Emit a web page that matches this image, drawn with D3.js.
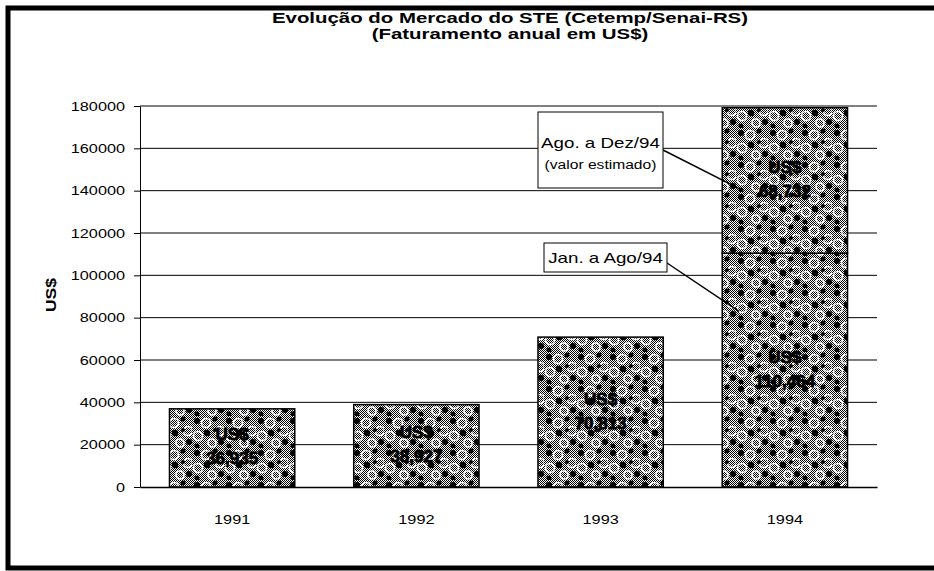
<!DOCTYPE html>
<html>
<head>
<meta charset="utf-8">
<script src="https://cdn.jsdelivr.net/npm/d3@7"></script>
<style>
  body { margin: 0; background: #fff; }
  text { font-family: "Liberation Sans", Arial, sans-serif; fill: #000; }
</style>
</head>
<body>
<script>
// data
const years = ["1991", "1992", "1993", "1994"];
const realValues = [36935, 38927, 70813, 110464];      // Jan. a Ago/94 for 1994
const estimatedValues = [0, 0, 0, 68732];             // Ago. a Dez/94 (valor estimado)
const yTicks = [0, 20000, 40000, 60000, 80000, 100000, 120000, 140000, 160000, 180000];
const titleLines = ["Evolução do Mercado do STE (Cetemp/Senai-RS)", "(Faturamento anual em US$)"];
const yTitle = "US$";
const calloutTexts = [["Ago. a Dez/94", "(valor estimado)"], ["Jan. a Ago/94"]];
const calloutTargets = [141000, 83000];

const w = 934, h = 571;
const plotLeft = 140, plotRight = 877, plotTop = 106, plotBottom = 487;
const stretchK = 1.25;   // the scan is a bit wider than Arial

const svg = d3.select("body").append("svg").attr("width", w).attr("height", h);

// stretch text horizontally to look like the scan
function stretch(sel, k) {
  sel.each(function () {
    const len = this.getComputedTextLength();
    d3.select(this).attr("textLength", len * k).attr("lengthAdjust", "spacingAndGlyphs");
  });
}

// fill pattern: dithered grey with black blobs and white rings
const defs = svg.append("defs");
const checker = defs.append("pattern").attr("id", "checker")
  .attr("width", 2).attr("height", 2).attr("patternUnits", "userSpaceOnUse");
checker.append("rect").attr("width", 2).attr("height", 2).attr("fill", "#fff");
checker.append("rect").attr("width", 1).attr("height", 1).attr("fill", "#000");
checker.append("rect").attr("x", 1).attr("y", 1).attr("width", 1).attr("height", 1).attr("fill", "#000");

const dots = defs.append("pattern").attr("id", "dots")
  .attr("width", 32).attr("height", 32).attr("patternUnits", "userSpaceOnUse");
dots.append("rect").attr("width", 32).attr("height", 32).attr("fill", "url(#checker)");
[[14, 7, 4.5], [28, 15, 4.5], [6, 20, 4.5], [20, 27, 4]].forEach(c => {
  dots.append("circle").attr("cx", c[0]).attr("cy", c[1]).attr("r", c[2])
    .attr("fill", "none").attr("stroke", "#fff").attr("stroke-width", 1.6);
});
[[5, 5, 3], [23, 3, 2.5], [15, 17, 3.2], [29, 26, 3], [5, 30, 2.5], [23, 14, 2]].forEach(c => {
  dots.append("circle").attr("cx", c[0]).attr("cy", c[1]).attr("r", c[2]).attr("fill", "#000");
});

// outer frame
svg.append("rect")
  .attr("x", 8).attr("y", 8).attr("width", w + 20).attr("height", 560)
  .attr("fill", "none").attr("stroke", "#000").attr("stroke-width", 5);

const xScale = d3.scaleBand().domain(years).range([plotLeft, plotRight])
  .paddingInner(0.32).paddingOuter(0.16);
const yScale = d3.scaleLinear().domain([0, 180000]).range([plotBottom, plotTop]);

// gridlines
svg.append("g").selectAll("line").data(yTicks.filter(d => d > 0)).enter().append("line")
  .attr("x1", plotLeft).attr("x2", plotRight)
  .attr("y1", d => yScale(d)).attr("y2", d => yScale(d))
  .attr("stroke", "#000").attr("stroke-width", 1);

// bars
const rows = years.map((yr, i) => ({ year: yr, real: realValues[i], est: estimatedValues[i] }));
const bars = svg.append("g");
bars.selectAll("rect.real").data(rows).enter().append("rect")
  .attr("class", "real")
  .attr("x", d => xScale(d.year))
  .attr("width", xScale.bandwidth())
  .attr("y", d => yScale(d.real))
  .attr("height", d => yScale(0) - yScale(d.real))
  .attr("fill", "url(#dots)").attr("stroke", "#000").attr("stroke-width", 1.5);
bars.selectAll("rect.est").data(rows.filter(d => d.est > 0)).enter().append("rect")
  .attr("class", "est")
  .attr("x", d => xScale(d.year))
  .attr("width", xScale.bandwidth())
  .attr("y", d => yScale(d.real + d.est))
  .attr("height", d => yScale(d.real) - yScale(d.real + d.est))
  .attr("fill", "url(#dots)").attr("stroke", "#000").attr("stroke-width", 1.5);

// labels inside the bars
const fmt = d3.format(",");
const labels = [];
rows.forEach(d => {
  labels.push({ year: d.year, mid: (yScale(0) + yScale(d.real)) / 2, value: d.real });
  if (d.est > 0) labels.push({ year: d.year, mid: (yScale(d.real) + yScale(d.real + d.est)) / 2, value: d.est });
});
const lab = svg.append("g").selectAll("g").data(labels).enter().append("g");
lab.append("text")
  .attr("x", d => xScale(d.year) + xScale.bandwidth() / 2)
  .attr("y", d => d.mid - 13)
  .attr("text-anchor", "middle").attr("dominant-baseline", "central")
  .attr("font-size", 17).attr("font-weight", "bold")
  .attr("stroke", "#000").attr("stroke-width", 0.8)
  .text("US$");
lab.append("text")
  .attr("x", d => xScale(d.year) + xScale.bandwidth() / 2)
  .attr("y", d => d.mid + 11)
  .attr("text-anchor", "middle").attr("dominant-baseline", "central")
  .attr("font-size", 17).attr("font-weight", "bold")
  .attr("stroke", "#000").attr("stroke-width", 0.8)
  .text(d => fmt(d.value));

// axes
const yAxis = d3.axisLeft(yScale).tickValues(yTicks).tickSizeInner(6).tickSizeOuter(0)
  .tickPadding(9).tickFormat(d3.format("d"));
const gy = svg.append("g").attr("transform", "translate(" + plotLeft + ",0)").call(yAxis);
gy.select(".domain").attr("stroke", "#000");
gy.selectAll(".tick line").attr("stroke", "#000");
gy.selectAll("text").attr("font-size", 13).attr("font-family", null);
stretch(gy.selectAll("text"), stretchK);

const xAxis = d3.axisBottom(xScale).tickSize(0).tickPadding(28);
const gx = svg.append("g").attr("transform", "translate(0," + plotBottom + ")").call(xAxis);
gx.select(".domain").attr("stroke", "#000").attr("stroke-width", 1.5);
gx.selectAll("text").attr("font-size", 13).attr("font-family", null);
stretch(gx.selectAll("text"), stretchK);

// titles
const title = svg.append("g").selectAll("text").data(titleLines).enter().append("text")
  .attr("x", 510).attr("y", (d, i) => 23 + i * 16)
  .attr("text-anchor", "middle")
  .attr("font-size", 15).attr("font-weight", "bold")
  .text(d => d);
stretch(title, 1.36);

const yt = svg.append("text")
  .attr("transform", "translate(56,295) rotate(-90)")
  .attr("text-anchor", "middle")
  .attr("font-size", 14).attr("font-weight", "bold")
  .text(yTitle);
stretch(yt, stretchK);

// callouts
const boxes = [
  { x: 538, y: 112, w: 125, h: 76, anchorY: 150, lines: calloutTexts[0], target: calloutTargets[0] },
  { x: 544, y: 243, w: 123, h: 29, anchorY: 263, lines: calloutTexts[1], target: calloutTargets[1] }
];
const tx = xScale("1994") + 17;
boxes.forEach((b, bi) => {
  svg.append("line")
    .attr("x1", b.x + b.w).attr("y1", b.anchorY)
    .attr("x2", tx).attr("y2", yScale(b.target))
    .attr("stroke", "#000").attr("stroke-width", 1.5);
  svg.append("rect")
    .attr("x", b.x).attr("y", b.y).attr("width", b.w).attr("height", b.h)
    .attr("fill", "#fff").attr("stroke", "#000").attr("stroke-width", 1);
  b.lines.forEach((t, i) => {
    const el = svg.append("text")
      .attr("x", b.x + b.w / 2)
      .attr("y", bi === 0 ? (i === 0 ? 142 : 165) : 257)
      .attr("text-anchor", "middle").attr("dominant-baseline", "central")
      .attr("font-size", i === 0 ? 15 : 12)
      .text(t);
    stretch(el, i === 0 ? stretchK : 1.3);
  });
});
</script>
</body>
</html>
